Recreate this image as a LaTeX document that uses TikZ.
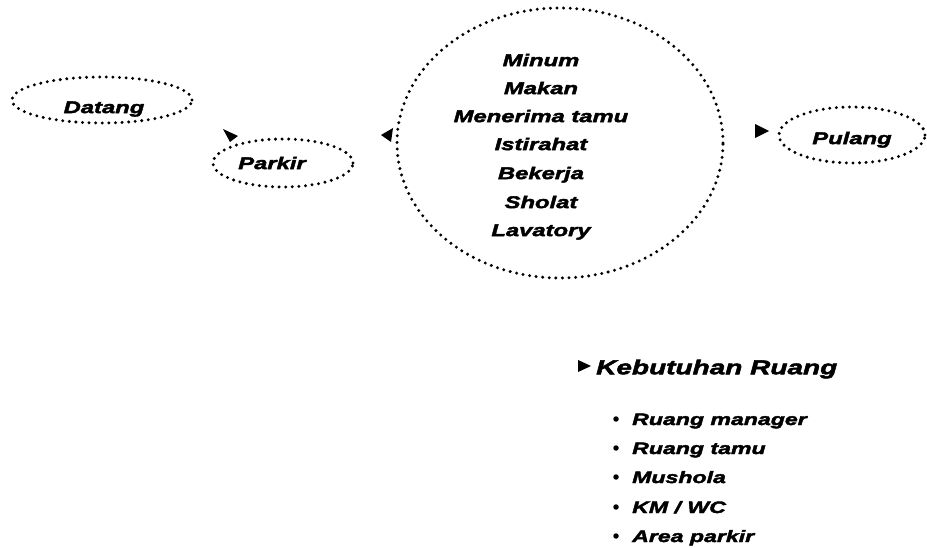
\documentclass[tikz,border=0pt]{standalone}
\usepackage{fontspec}
\newfontfamily\hv{Liberation Sans}[FakeStretch=1.4, BoldItalicFeatures={FakeBold=2.5}]
\usetikzlibrary{shapes.geometric}
\tikzset{
  dotell/.style={ellipse, draw, line width=3.3pt, dash pattern=on 0pt off 6.6pt, line cap=round, inner sep=0pt},
  lbl/.style={font=\hv\bfseries\itshape\fontsize{17}{17}\selectfont, inner sep=0pt, text height=12.2pt, text depth=0pt},
  big/.style={font=\hv\bfseries\itshape\fontsize{20}{20}\selectfont, inner sep=0pt, text height=14.5pt, text depth=0pt, anchor=west},
  item/.style={font=\hv\bfseries\itshape\fontsize{16.5}{16.5}\selectfont, inner sep=0pt, text height=12pt, text depth=0pt, anchor=west},
  tip/.style={fill=black},
  bul/.style={circle, fill=black, inner sep=0pt, minimum size=5.5pt},
}
\begin{document}
\begin{tikzpicture}[x=1pt,y=-1pt]
\useasboundingbox (0,0) rectangle (927,548);
% ellipses
\node[dotell, minimum width=180pt, minimum height=46pt] (datang) at (102,100) {};
\node[dotell, minimum width=140pt, minimum height=48pt] (parkir) at (283,163) {};
\node[dotell, minimum width=326pt, minimum height=270pt] (act) at (560,143) {};
\node[dotell, minimum width=146pt, minimum height=56pt] (pulang) at (852,135) {};
% labels
\node[lbl] (tdatang) at (104,107) {Datang};
\node[lbl] (tparkir) at (272,163) {Parkir};
\node[lbl] (tpulang) at (852,138) {Pulang};
\node[lbl] (a1) at (541,60) {Minum};
\node[lbl] (a2) at (541,88) {Makan};
\node[lbl] (a3) at (541,116) {Menerima tamu};
\node[lbl] (a4) at (541,144) {Istirahat};
\node[lbl] (a5) at (541,173) {Bekerja};
\node[lbl] (a6) at (541,202) {Sholat};
\node[lbl] (a7) at (541,230) {Lavatory};
% arrow heads
\coordinate (h1a) at (223,129); \coordinate (h1b) at (230,142); \coordinate (h1c) at (238,136);
\fill[tip] (h1a) -- (h1b) -- (h1c) -- cycle;
\coordinate (h2a) at (381,135); \coordinate (h2b) at (393,128); \coordinate (h2c) at (391,142);
\fill[tip] (h2a) -- (h2b) -- (h2c) -- cycle;
\coordinate (h3a) at (769,131); \coordinate (h3b) at (755,124); \coordinate (h3c) at (755,138);
\fill[tip] (h3a) -- (h3b) -- (h3c) -- cycle;
\coordinate (h4a) at (591,366); \coordinate (h4b) at (578,360); \coordinate (h4c) at (578,372);
\fill[tip] (h4a) -- (h4b) -- (h4c) -- cycle;
% list
\node[big] (keb) at (596,367) {Kebutuhan Ruang};
\node[bul] (b1) at (616,419) {}; \node[item] (l1) at (632,419) {Ruang manager};
\node[bul] (b2) at (616,448) {}; \node[item] (l2) at (632,448) {Ruang tamu};
\node[bul] (b3) at (616,477) {}; \node[item] (l3) at (632,477) {Mushola};
\node[bul] (b4) at (616,507) {}; \node[item] (l4) at (632,507) {KM / WC};
\node[bul] (b5) at (616,536) {}; \node[item] (l5) at (632,536) {Area parkir};
\end{tikzpicture}
\end{document}
